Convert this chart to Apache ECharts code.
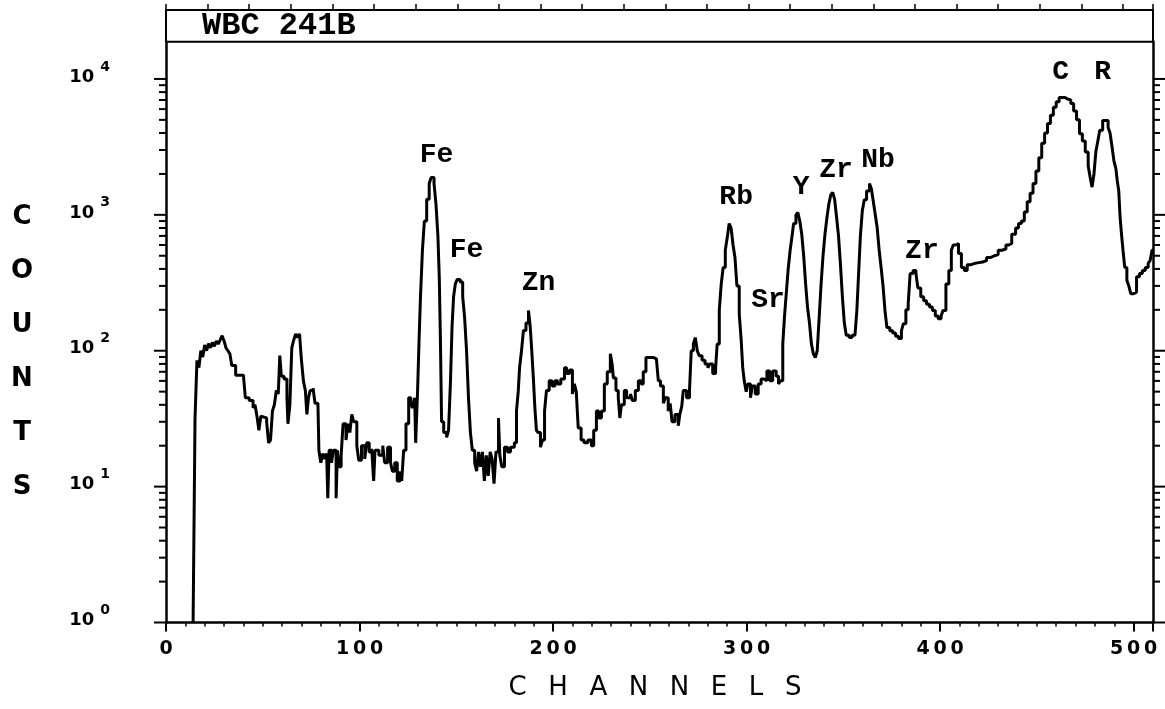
<!DOCTYPE html>
<html>
<head>
<meta charset="utf-8">
<script src="https://cdn.jsdelivr.net/npm/echarts@6/dist/echarts.min.js"></script>
<style>html,body{margin:0;padding:0;background:#fff}#c{width:1165px;height:709px}</style>
</head>
<body>
<div id="c"></div>
<script>
// Spectrum: channel (left edge of step) and counts
const channels = [
  14,15,16,17,18,19,20,21,22,23,
  24,25,26,27,28,29,30,31,32,33,
  34,36,38,40,41,43,45,46,47,48,
  49,50,52,53,54,55,56,57,58,58.8,
  59.6,61,62.5,63,64,65,66,67,68,69,
  70,71,72,72.8,73.6,74.5,76,77,78.5,79,
  80,81,82,83,83.6,84.3,85.5,86.5,87.9,88.6,
  89.3,90.5,91.5,93,94,95,96,97,98.6,99.6,
  101,102.7,103.7,105,106.3,107.3,108,110,112,113,
  114.5,116,117,118.2,119.5,121,121.8,122.8,124,125.4,
  126.5,127.5,128.5,129,130,130.8,131.5,132.5,133.5,134.7,
  136,137,138.5,139.5,140.5,141.2,141.8,142.4,143.5,145,
  146,147,147.8,148.6,149.5,150.5,152,153.3,154.3,155.3,
  156.3,157.3,158.3,159.5,160.5,161.5,162.5,163.5,164.5,165.5,
  166.5,167.5,168.5,169.5,170.5,171.8,172.5,173.5,174.9,176.5,
  178,180,181.1,182,182.7,183.7,184.7,186,187.3,188.2,
  189,189.9,190.6,191.4,192.3,193.5,194.5,195.6,196.6,198,
  199.5,201,202.3,204,205.9,207,208.5,210,211,212,
  213,214.5,216,218,219.8,221,222.4,223.5,225,226.5,
  228,229.6,230.5,231.2,232.5,233.7,234.5,235.3,236.8,238,
  240,241,242.5,244.1,245.5,246.6,248,250,252,253.4,
  254.4,255.5,257,258,259.5,260.5,261.5,263,264.7,265.5,
  266.5,267.3,269,270.5,271.4,272.5,273.5,274.5,275.5,277,
  278.5,280,281,282.5,284,284.8,285.9,286.9,287.9,289,
  290,291,292,293,294,295,296.2,297.2,298,298.8,
  299.8,300.6,302,303,304.5,306,307.5,309,310.5,312,
  313.5,315.3,316.5,317.5,318.7,319.6,320.5,321.5,322.5,323.5,
  324.3,325.5,326.5,327.5,328.5,329.5,330.5,331.5,332.5,333.5,
  334.5,335.5,336.5,337.5,338.5,339.5,340.5,341.5,342.5,343.5,
  344.5,345.5,346.5,347.5,348.5,349.5,350.5,351.5,353,354.5,
  356,357,357.8,358.8,359.8,360.8,362,363.5,364.5,365.5,
  366.5,367.5,368.5,369.5,370.5,371.5,372.5,374,375.5,377,
  378.5,380,381,382.3,383.5,384.5,386,387.5,388.5,390,
  391.5,393,394.5,396,397.5,399,400.5,401.5,403,404.5,
  405.8,406.8,408,409.5,411,412.5,414,416,418,420,
  422,424,426,428,430,432,434,435.5,437,439,
  440.5,442,443.5,445,446.5,448,449.5,451,452.5,454,
  455.5,457,458.5,460,461.5,463,464.5,466,467.5,469,
  470.5,472,473.5,475,476.5,477.5,478.5,479.5,480.5,481.5,
  482.5,484,485.5,486.8,487.8,488.8,489.8,490.8,491.5,492.3,
  493,493.8,494.5,495.4,496.5,497.5,498.5,500,501.5,503,
  504.5,506,507.5,508.5,509.5,510
];
const counts = [
  1,32,85,75,100,90,110,100,113,105,
  115,108,118,112,120,129,118,105,100,95,
  78,66,66,64,45,43,38,40,33,26,
  33,32,30,21,22,36,40,51,48,92,
  65,62,45,29,40,105,120,133,125,133,
  85,60,51,34,45,51,53,41,41,18.5,
  15,17.5,16,17.5,8.2,18.5,15,18.5,8.2,18.5,
  14,17,29,22,29,25,34,30,20,15.6,
  20,16,21,18,19,11,18.5,17,20,15,
  19.5,15,13,15,11,13,11,18.5,29,45,
  40,38,45,21,51,125,250,550,900,1300,
  1700,1880,1700,1200,700,350,120,30,25,23,
  26,60,150,250,310,335,320,250,175,100,
  45,25,18.5,15,13,18,14,18,11,17,
  12,18,16,10.5,18,32,17,14,19.5,18,
  19.5,21,36,50,75,100,141,160,198,150,
  100,60,38,26,25,19.5,22,36,51,60,
  55,60,57,62,75,68,72,48,57,50,
  27,22,21,22,20,26,36,32,36,57,
  70,95,80,63,51,45,32,40,51,45,
  48,43,51,60,57,70,89,89,87,89,
  60,55,41,45,36,41,30,34,28,34,
  39,51,45,51,100,112,125,100,92,85,
  80,75,80,68,75,112,200,310,410,550,
  680,863,800,600,485,300,187,120,75,60,
  50,57,45,55,48,57,62,60,71,60,
  71,65,57,60,112,180,263,400,549,700,
  863,1000,1040,900,720,500,310,208,160,112,
  95,89,100,175,310,500,720,950,1200,1400,
  1460,1300,960,700,430,250,160,130,125,130,
  129,200,350,700,1070,1290,1500,1700,1550,1250,
  1000,800,550,410,300,198,148,140,135,128,
  123,140,158,200,220,370,390,370,290,250,
  233,220,210,198,180,172,180,198,310,390,
  549,600,615,520,410,390,430,440,445,450,
  460,485,500,510,549,560,600,615,720,800,
  863,900,1050,1250,1440,1700,2100,2630,3370,4000,
  4700,5400,6200,6800,7300,7300,7100,7000,6600,5800,
  5000,3950,3500,2900,2300,1900,1600,2000,2940,3500,
  4200,4940,4940,4400,4000,3200,2500,2200,1800,1500,
  960,700,549,410,330,300,263,270,350,370,
  390,410,440,460,549,549
];

// Peak annotations (label anchor in data units)
const peakNames    = ['Fe','Fe','Zn','Rb','Sr','Y','Zr','Nb','Zr','C','R'];
const peakChannels = [139.8,155.3,192.5,294.6,311.1,328.2,346.2,367.9,390.6,462.3,484.0];
const peakCounts   = [2755,551,315,1352,236,1602,2137,2530,542,11250,11250];

// Axis definitions
const xMin = 0, xMax = 510;
const xTickLabels = [0,100,200,300,400,500];
const yMin = 1, yMax = 18800;
const yDecades = [1,10,100,1000,10000];
const yMinorMultipliers = [2,3,4,5,6,7,8,9];

const titleText = 'WBC 241B';
const yName = 'COUNTS';
const xName = 'CHANNELS';

const yTickData = [];
yDecades.forEach(function(d){
  yTickData.push([xMin, d, 1]);
  yMinorMultipliers.forEach(function(m){
    if (d*m <= yMax) yTickData.push([xMin, d*m, 0]);
  });
});

const chart = echarts.init(document.getElementById('c'), null, {renderer:'canvas'});
const black = '#000';
const option = {
  animation: false,
  backgroundColor: '#fff',
  grid: {left:166, right:12, top:41.7, bottom:86.5, containLabel:false},
  xAxis: [
    {
      type:'value', min:xMin, max:xMax, interval:100, position:'bottom',
      axisLine:{show:true, onZero:false, lineStyle:{color:black, width:2.5}},
      axisTick:{show:true, length:9, lineStyle:{color:black, width:2}},
      splitLine:{show:false},
      axisLabel:{
        margin:17, color:black, fontFamily:'DejaVu Sans', fontWeight:'bold', fontSize:19,
        formatter:function(v){
          if (xTickLabels.indexOf(v) < 0) return '';
          return String(v).split('').join('\u2009');
        }
      }
    },
    {
      type:'value', min:xMin, max:xMax, interval:10, position:'bottom',
      axisLine:{show:false, onZero:false},
      axisTick:{show:true, length:4, lineStyle:{color:black, width:1.5}},
      axisLabel:{show:false}, splitLine:{show:false}
    },
    {
      type:'value', min:xMin, max:xMax, interval:21.5, position:'top', offset:31.7,
      axisLine:{show:true, onZero:false, lineStyle:{color:black, width:2}},
      axisTick:{show:true, length:6, lineStyle:{color:black, width:1.5}},
      axisLabel:{show:false}, splitLine:{show:false}
    }
  ],
  yAxis: [
    {
      type:'log', logBase:10, min:yMin, max:yMax, position:'left',
      axisLine:{show:true, onZero:false, lineStyle:{color:black, width:2.5}},
      axisTick:{show:false}, splitLine:{show:false}, minorTick:{show:false},
      axisLabel:{
        margin:56, padding:[0,0,12,0],
        formatter:function(v){
          const e = Math.round(Math.log10(v));
          if (Math.abs(Math.pow(10,e) - v) > 1e-6 * v) return '';
          return '{b|10}{s|' + e + '}';
        },
        rich:{
          b:{fontFamily:'DejaVu Sans', fontWeight:'bold', fontSize:18, color:black, verticalAlign:'bottom'},
          s:{fontFamily:'DejaVu Sans', fontWeight:'bold', fontSize:14, color:black, verticalAlign:'bottom', padding:[0,0,12,6]}
        }
      }
    },
    {
      type:'log', logBase:10, min:yMin, max:yMax, position:'right',
      axisLine:{show:true, onZero:false, lineStyle:{color:black, width:2.5}},
      axisTick:{show:false}, axisLabel:{show:false}, splitLine:{show:false}
    }
  ],
  graphic: [
    {type:'rect', shape:{x:166, y:10, width:987, height:31.7}, style:{fill:'none', stroke:black, lineWidth:2}, z:10},
    {type:'text', x:202, y:26, style:{text:titleText, font:'bold 32px "Liberation Mono"', fill:black, align:'left', verticalAlign:'middle', textAlign:'left', textVerticalAlign:'middle'}, z:10},
    {type:'text', x:22, y:352, style:{text:yName.split('').join('\n'), font:'bold 26px "DejaVu Sans"', lineHeight:54, fill:black, align:'center', verticalAlign:'middle', textAlign:'center', textVerticalAlign:'middle'}, z:10},
    {type:'text', x:655, y:688, style:{text:xName.split('').join('\u2002\u2004'), font:'26px "DejaVu Sans"', fill:black, align:'center', verticalAlign:'middle', textAlign:'center', textVerticalAlign:'middle'}, z:10}
  ],
  series: [
    {
      type:'line', xAxisIndex:0, yAxisIndex:0, step:'end', symbol:'none', clip:true,
      data: channels.map(function(c,i){ return [c, counts[i]]; }),
      lineStyle:{color:black, width:3}, z:3
    },
    {
      type:'scatter', xAxisIndex:0, yAxisIndex:0, symbolSize:1,
      itemStyle:{color:'rgba(255,255,255,0)'},
      data: peakChannels.map(function(c,i){ return {name:peakNames[i], value:[c, peakCounts[i]]}; }),
      label:{show:true, position:'inside', formatter:'{b}', color:'#000', opacity:1, textBorderWidth:0,
             fontFamily:'Liberation Mono', fontWeight:'bold', fontSize:28},
      z:4
    },
    {
      type:'custom', xAxisIndex:0, yAxisIndex:0, silent:true, clip:false, z:5,
      data: yTickData,
      renderItem:function(params, api){
        const v = api.value(1);
        const major = api.value(2);
        const pL = api.coord([xMin, v]);
        const pR = api.coord([xMax, v]);
        const len = major ? 12 : 7;
        return {type:'group', children:[
          {type:'line', shape:{x1:pL[0]-len, y1:pL[1], x2:pL[0], y2:pL[1]}, style:{stroke:black, lineWidth:2}},
          {type:'line', shape:{x1:pR[0], y1:pR[1], x2:pR[0]+len, y2:pR[1]}, style:{stroke:black, lineWidth:2}}
        ]};
      }
    }
  ]
};
chart.setOption(option);
</script>
</body>
</html>
